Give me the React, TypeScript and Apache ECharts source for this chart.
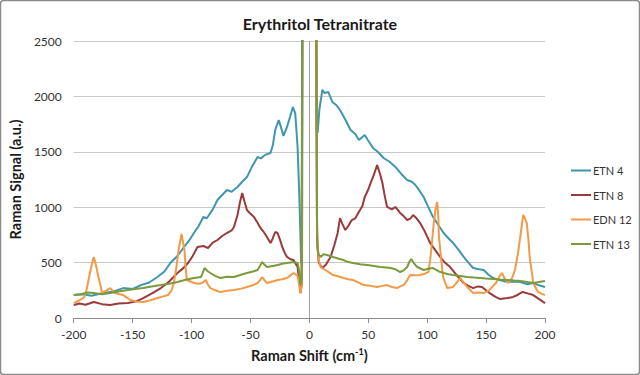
import React, { useEffect, useRef } from "react";
import * as echarts from "echarts";

const seriesNames = ["ETN 4", "ETN 8", "EDN 12", "ETN 13"];
const seriesColors = ["#3F97AF", "#9A3A3A", "#F29A48", "#7A9A3C"];
const xTicks = [-200, 200, 50];
const yTicks = [0, 2500, 500];

const etn4: [number, number][] = [
  [-200, 207], [-192, 215], [-185, 200], [-175, 225], [-166, 240], [-158, 270], [-150, 262], [-143, 297],
  [-136, 320], [-129, 370], [-123, 420], [-118, 496], [-112, 560], [-107, 632], [-102, 700], [-98, 767],
  [-94, 830], [-90, 911], [-87, 900], [-82, 980], [-78, 1065], [-74, 1110], [-70, 1155], [-66, 1140],
  [-61, 1182], [-57, 1230], [-53, 1272], [-49, 1360], [-44, 1453], [-41, 1440], [-38, 1470], [-33, 1489],
  [-31, 1560], [-29, 1697], [-26, 1787], [-24, 1720], [-22, 1643], [-19, 1724], [-16, 1830], [-14, 1904],
  [-12, 1850], [-10, 1543], [-8.5, 1092], [-7, 523], [-6.2, 450], [-5.2, 6000],
  [4.5, 6000], [6.2, 1700], [7, 1670], [8.5, 1880], [11, 2058], [13, 2030], [16, 2040], [19.5, 1950],
  [23, 1920], [26, 1877], [30, 1800], [35, 1697], [39, 1660], [42, 1607], [47, 1652], [50, 1600],
  [54, 1535], [58, 1500], [63, 1444], [68, 1410], [73, 1363], [78, 1300], [83, 1246], [87, 1230],
  [90, 1200], [94, 1140], [97, 1092], [101, 1000], [105, 911], [110, 830], [114, 767], [118, 720],
  [122, 677], [127, 610], [131, 551], [135, 500], [139, 451], [144, 440], [148, 433], [152, 390],
  [156, 361], [162, 340], [168, 325], [174, 330], [179, 325], [185, 305], [190, 316], [195, 295], [200, 280],
];

const etn8: [number, number][] = [
  [-200, 117], [-195, 130], [-190, 120], [-183, 144], [-176, 125], [-169, 117], [-162, 130], [-154, 135],
  [-147, 150], [-141, 180], [-134, 220], [-126, 270], [-119, 330], [-112, 406], [-107, 450], [-103, 496],
  [-99, 560], [-95, 641], [-90, 650], [-86, 632], [-82, 680], [-78, 704], [-74, 740], [-70, 767],
  [-66, 790], [-64, 821], [-61, 930], [-59, 1040], [-57, 1128], [-55, 1050], [-53, 975], [-50, 940],
  [-47, 911], [-44, 860], [-42, 821], [-39, 780], [-36, 731], [-33, 677], [-31, 720], [-29, 776],
  [-27, 767], [-25, 710], [-23, 641], [-21, 590], [-19, 551], [-16, 530], [-13.5, 523], [-10, 460],
  [-8.5, 330], [-7.6, 225], [-6.5, 300], [-5.2, 6000],
  [4.5, 6000], [6.5, 700], [8, 496], [11, 451], [14, 480], [18, 551], [21, 650], [24, 767],
  [26, 902], [28, 850], [30.5, 794], [33, 830], [36, 884], [39, 900], [42, 957], [45, 1010],
  [47, 1092], [50, 1160], [52, 1218], [55, 1300], [57.5, 1381], [60, 1300], [62, 1218], [64, 1100],
  [66, 1002], [70, 980], [73, 1002], [77, 948], [80, 920], [83, 884], [86, 900], [88, 930],
  [91, 900], [94, 857], [98, 780], [102.5, 677], [107, 610], [111, 551], [115, 500], [119.5, 460],
  [125, 388], [131, 316], [135, 290], [139, 270], [143, 285], [146.5, 280], [150, 250], [153, 225],
  [158, 190], [162, 171], [168, 180], [173, 190], [177, 210], [181, 235], [186, 220], [190, 207],
  [195, 170], [200, 135],
];

const edn12: [number, number][] = [
  [-200, 135], [-195, 160], [-191, 190], [-189, 260], [-187, 370], [-185, 470], [-183, 551], [-181, 470],
  [-179, 370], [-177, 280], [-176, 225], [-172, 250], [-169, 270], [-165, 225], [-161, 215], [-158, 207],
  [-152, 162], [-147, 150], [-141, 144], [-135, 160], [-129, 180], [-124, 195], [-120, 207], [-117, 250],
  [-115, 316], [-113, 450], [-111, 614], [-108.5, 758], [-106, 614], [-105, 450], [-104, 343], [-98, 316],
  [-94, 310], [-91, 316], [-88, 343], [-86, 300], [-84, 270], [-80, 250], [-75.5, 235], [-70, 245],
  [-64, 253], [-58, 265], [-53, 280], [-48, 295], [-44, 316], [-42, 340], [-40, 370], [-38, 340],
  [-36, 316], [-31, 330], [-27, 343], [-23, 350], [-19, 361], [-16, 385], [-13.5, 406], [-10, 380],
  [-8.5, 290], [-7.6, 225], [-6.5, 300], [-5.6, 6000],
  [4.8, 6000], [6.5, 800], [7, 677], [8, 520], [9.5, 460], [13.5, 433], [17, 410], [20, 388],
  [25, 375], [29, 361], [33, 350], [37, 343], [42, 320], [46, 297], [52, 290], [57.5, 280],
  [62, 290], [66, 297], [70, 280], [74.5, 270], [77, 285], [80, 297], [83, 340], [85.5, 388],
  [90, 385], [94, 388], [98, 400], [101, 415], [102.5, 520], [104, 677], [105.5, 850], [107, 975],
  [108.5, 1047], [109.5, 900], [110, 731], [112, 520], [113.5, 370], [117, 270], [122, 280], [125, 320],
  [128, 361], [131, 320], [134, 280], [139, 225], [143, 230], [148, 225], [153, 253], [156, 290],
  [159, 325], [161.5, 380], [163.5, 406], [166, 350], [169, 316], [172, 360], [174.5, 433], [177, 580],
  [179, 731], [181.5, 930], [183, 900], [184.5, 857], [186, 700], [187, 551], [189, 400], [190, 316],
  [194, 235], [197, 220], [200, 207],
];

const etn13: [number, number][] = [
  [-200, 207], [-194, 215], [-188, 230], [-183, 225], [-176, 215], [-169, 225], [-162, 240], [-154, 253],
  [-148, 262], [-141, 270], [-134, 285], [-126, 297], [-119, 310], [-112, 325], [-105, 345], [-98, 361],
  [-92, 370], [-90, 420], [-89, 451], [-86, 420], [-84, 406], [-80, 380], [-75.5, 361], [-70, 372],
  [-64, 370], [-58, 390], [-53, 406], [-48, 420], [-44, 433], [-42, 470], [-40, 505], [-38, 480],
  [-36, 460], [-31, 470], [-27, 478], [-23, 490], [-19, 496], [-16, 500], [-13.5, 505], [-10, 496],
  [-8.5, 420], [-7.6, 300], [-6.5, 350], [-5.8, 6000],
  [5, 6000], [6.5, 900], [7, 614], [8, 570], [9.5, 551], [12, 575], [15, 569], [20, 551],
  [25, 535], [29, 523], [33, 505], [37, 496], [43, 485], [49, 478], [55, 470], [60, 460],
  [65, 455], [69, 451], [73, 440], [77, 415], [80, 430], [83, 460], [85, 510], [86.5, 532],
  [89, 490], [91.5, 460], [97, 433], [101, 445], [105, 451], [110, 420], [114, 406], [118, 395],
  [122, 388], [128, 380], [134, 370], [140, 365], [145, 361], [150, 356], [156, 352], [162, 347],
  [168, 343], [174, 338], [179, 334], [185, 325], [190, 316], [195, 325], [200, 334],
];

const seriesData = [etn4, etn8, edn12, etn13];

const FONT = "Lato, 'Open Sans', sans-serif";

export default function App() {
  const ref = useRef<HTMLDivElement>(null);
  useEffect(() => {
    document.body.style.margin = "0";
    const chart = echarts.init(ref.current!, null, { renderer: "svg" });
    chart.setOption({
      animation: false,
      backgroundColor: "#ffffff",
      textStyle: { fontFamily: FONT },
      title: {
        text: "Erythritol Tetranitrate",
        left: "center",
        top: 10,
        textStyle: { fontFamily: FONT, fontSize: 16, fontWeight: "bold", color: "#1a1a1a" },
      },
      legend: {
        orient: "vertical",
        left: 571,
        top: 164,
        padding: 0,
        itemWidth: 20,
        itemHeight: 2,
        itemGap: 11.5,
        icon: "rect",
        data: seriesNames,
        textStyle: { fontFamily: FONT, fontSize: 11, lineHeight: 13, color: "#333", padding: [0, 0, 0, -3] },
      },
      graphic: [
        {
          type: "rect",
          shape: { x: 0.5, y: 0.5, width: 639, height: 374, r: 3 },
          style: { fill: "none", stroke: "#8a8a8a", lineWidth: 1.5 },
          silent: true,
        },
      ],
      grid: { left: 73, right: 95, top: 41, bottom: 57 },
      xAxis: {
        type: "value",
        min: xTicks[0],
        max: xTicks[1],
        interval: xTicks[2],
        name: "{a|Raman Shift (cm}{b|-1}{a|)}",
        nameLocation: "middle",
        nameGap: 29,
        nameTextStyle: {
          rich: {
            a: { fontFamily: FONT, fontSize: 14.5, fontWeight: "bold", color: "#1a1a1a" },
            b: { fontFamily: FONT, fontSize: 9, fontWeight: "bold", color: "#1a1a1a", padding: [0, 0, 8, 0] },
          },
        },
        axisLine: { onZero: false, lineStyle: { color: "#8c8c8c", width: 1 } },
        axisTick: { show: true, length: 5, lineStyle: { color: "#8c8c8c" } },
        axisLabel: { fontFamily: FONT, fontSize: 12, color: "#333", margin: 10 },
        splitLine: { show: false },
      },
      yAxis: {
        type: "value",
        min: yTicks[0],
        max: yTicks[1],
        interval: yTicks[2],
        name: "Raman Signal (a.u.)",
        nameLocation: "middle",
        nameGap: 43,
        nameTextStyle: { fontFamily: FONT, fontSize: 14.5, fontWeight: "bold", color: "#1a1a1a" },
        axisLine: { show: false },
        axisTick: { show: false },
        axisLabel: {
          fontFamily: FONT,
          fontSize: 12,
          color: "#333",
          margin: 12,
          formatter: (v: number) => String(v),
        },
        splitLine: { lineStyle: { color: "#c8c8c8", width: 1 } },
      },
      series: seriesNames.map((name, i) => ({
        name,
        type: "line",
        data: seriesData[i],
        showSymbol: false,
        symbol: "none",
        clip: true,
        color: seriesColors[i],
        lineStyle: { width: 2, color: seriesColors[i] },
        z: 2 + i,
        markLine:
          i === 0
            ? {
                silent: true,
                symbol: "none",
                label: { show: false },
                lineStyle: { color: "#a0a0a0", width: 1, type: "solid" },
                data: [{ xAxis: 0 }],
                z: 1,
              }
            : undefined,
      })),
    });
    return () => chart.dispose();
  }, []);
  return (
    <div
      ref={ref}
      style={{ position: "fixed", left: 0, top: 0, width: 640, height: 375 }}
    />
  );
}
